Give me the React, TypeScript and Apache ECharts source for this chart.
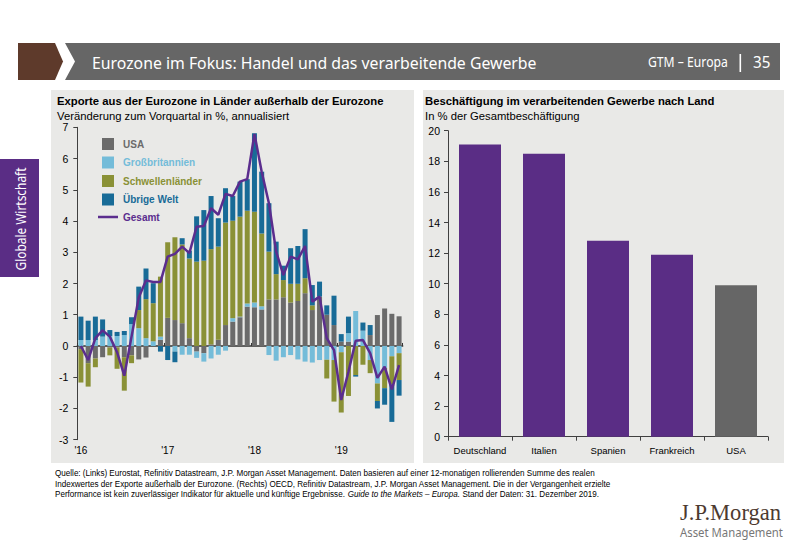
import React, { useEffect, useRef } from "react";
import * as echarts from "echarts";

const yearLabels = ["'16", "'17", "'18", "'19"];
const months: string[] = [];
for (let y = 0; y < 4; y++) {
  for (let m = 1; m <= 12; m++) months.push(yearLabels[y] + "-" + m);
}
months.length = 45;

const usa = [-0.1, -0.55, -0.4, -0.36, -0.05, -0.05, -0.36, -0.3, -0.43, -0.37, 0, 0.2, 0.9, 0.83, 0.73, 0.25, -0.18, -0.23, 0.05, 0.2, 0.67, 0.78, 0.92, 1.26, 1.24, 1.17, 1.49, 1.49, 1.56, 1.39, 1.44, 1.69, 1.15, 1.58, 1.0, 0.67, 0.14, 0.14, 0, 0, 0.35, 0.99, 1.2, 1.03, 0.95];
const uk = [0.19, 0.19, 0.19, 0.3, 0.32, 0.32, 0.35, 0.7, 0.57, 0.25, 0.15, 0.1, 0, -0.18, -0.28, -0.28, -0.2, -0.27, -0.4, -0.28, -0.15, 0.11, 0.02, 0.1, 0.15, 0.1, -0.29, -0.47, -0.36, -0.29, -0.43, -0.5, -0.53, -0.45, -0.44, -0.45, -0.2, 0.27, 1.12, 0.49, -0.45, -1.2, -0.7, -0.33, -0.23];
const em = [-1.07, -0.75, -0.28, 0, -0.25, -0.68, -1.07, -0.25, 0.58, 1.25, 1.22, 1.92, 2.42, 2.65, 2.52, 2.55, 2.7, 2.73, 3.05, 2.98, 3.28, 3.12, 3.2, 2.97, 2.91, 2.33, 1.53, 0.81, 0.55, 0.6, 0.55, 0.48, 0.15, 0, -0.6, -1.33, -1.93, -1.6, -0.93, -0.6, -0.42, -0.56, -0.65, -0.9, -0.86];
const rest = [0.75, 0.62, 0.75, 0.55, 0.19, 0.13, 0.13, 0.22, 0.75, 0.98, 0.64, -0.18, -0.45, -0.34, 0.2, 0.25, 1.45, 1.62, 1.7, 0.91, 1.1, 0.79, 1.12, 1.01, 2.51, 1.98, 1.55, 1.04, 0.46, 1.14, 1.21, 1.57, 0.65, 0.48, 0.3, 0.94, 0.24, 0.53, -0.05, 0.26, 0.32, -0.24, -0.53, -1.2, -0.5];
const total = [0, -0.45, 0.25, 0.5, 0.3, -0.2, -0.95, 0.3, 1.55, 2.1, 2.05, 2.05, 2.86, 2.95, 3.18, 2.97, 3.82, 3.84, 4.41, 4.2, 4.87, 4.8, 5.26, 5.34, 6.79, 5.58, 4.57, 3.02, 2.27, 2.86, 2.77, 3.2, 1.42, 1.58, 0.25, -0.13, -1.73, -0.82, 0.17, 0.19, -0.23, -1.02, -0.66, -1.39, -0.61];

const countries = ["Deutschland", "Italien", "Spanien", "Frankreich", "USA"];
const employment = [19.1, 18.5, 12.8, 11.9, 9.9];

const FONT = "Liberation Sans, Arial, sans-serif";
const C_USA = "#6b6b6b";
const C_UK = "#74bcd9";
const C_EM = "#8a9136";
const C_ROW = "#186b97";
const C_TOT = "#5b2d8e";
const C_AXIS = "#404040";
const PANEL = "#e9e9e7";

function txt(x: number, y: number, text: string, o: any = {}) {
  const { scaleX, rich, ...style } = o;
  const s: any = {
    text,
    fill: "#000",
    fontFamily: FONT,
    fontSize: 11,
    verticalAlign: "middle",
    align: "left",
    ...style,
  };
  if (rich) s.rich = rich;
  return {
    type: "text",
    x,
    y,
    scaleX: scaleX ?? 1,
    z: 10,
    style: s,
  };
}

export default function App() {
  const ref = useRef<HTMLDivElement>(null);
  useEffect(() => {
    if (!ref.current) return;
    const chart = echarts.init(ref.current, undefined, { renderer: "svg" });
    const sq = "path://M0,0H10V10H0Z";
    const ln = "path://M0,0H20V2.5H0Z";
    const yearIdx = (i: number) => i % 12 === 0;
    chart.setOption({
      animation: false,
      backgroundColor: "#ffffff",
      legend: {
        orient: "vertical",
        left: 93,
        top: 133,
        itemWidth: 20,
        itemHeight: 12,
        itemGap: 6.5,
        selectedMode: false,
        textStyle: { fontFamily: FONT, fontWeight: "bold", fontSize: 10 },
        data: [
          { name: "USA", icon: sq, textStyle: { color: C_USA } },
          { name: "Großbritannien", icon: sq, textStyle: { color: C_UK } },
          { name: "Schwellenländer", icon: sq, textStyle: { color: C_EM } },
          { name: "Übrige Welt", icon: sq, textStyle: { color: C_ROW } },
          { name: "Gesamt", icon: ln, textStyle: { color: C_TOT } },
        ],
      },
      grid: [
        { left: 77.3, top: 127.3, width: 325.4, height: 312.4 },
        { left: 448, top: 130.7, width: 320, height: 306 },
      ],
      xAxis: [
        {
          type: "category",
          gridIndex: 0,
          data: months,
          position: "bottom",
          axisLine: { show: false, onZero: false },
          axisTick: { show: false },
          axisLabel: {
            interval: (i: number) => yearIdx(i),
            formatter: (v: string) => v.split("-")[0],
            fontFamily: FONT,
            fontSize: 10,
            color: "#000",
            margin: 6,
          },
        },
        {
          type: "category",
          gridIndex: 0,
          data: months,
          axisLine: { show: true, onZero: true, lineStyle: { color: "#333", width: 1.5 } },
          axisTick: { show: true, interval: (i: number) => yearIdx(i), length: 3, lineStyle: { color: "#333" } },
          axisLabel: { show: false },
        },
        {
          type: "category",
          gridIndex: 1,
          data: countries,
          axisLine: { show: true, lineStyle: { color: C_AXIS } },
          axisTick: { show: true, interval: 0, length: 4, lineStyle: { color: C_AXIS } },
          axisLabel: { interval: 0, fontFamily: FONT, fontSize: 9.5, color: "#000", margin: 9 },
        },
      ],
      yAxis: [
        {
          type: "value",
          gridIndex: 0,
          min: -3,
          max: 7,
          interval: 1,
          axisLine: { show: true, lineStyle: { color: C_AXIS } },
          axisTick: { show: true, length: 4, lineStyle: { color: C_AXIS } },
          splitLine: { show: false },
          axisLabel: { fontFamily: FONT, fontSize: 10.5, color: "#000", margin: 9 },
        },
        {
          type: "value",
          gridIndex: 1,
          min: 0,
          max: 20,
          interval: 2,
          axisLine: { show: true, lineStyle: { color: C_AXIS } },
          axisTick: { show: true, length: 4, lineStyle: { color: C_AXIS } },
          splitLine: { show: false },
          axisLabel: { fontFamily: FONT, fontSize: 10.5, color: "#000", margin: 8 },
        },
      ],
      series: [
        { name: "USA", type: "bar", stack: "exp", xAxisIndex: 0, yAxisIndex: 0, barWidth: 5, data: usa, itemStyle: { color: C_USA } },
        { name: "Großbritannien", type: "bar", stack: "exp", xAxisIndex: 0, yAxisIndex: 0, barWidth: 5, data: uk, itemStyle: { color: C_UK } },
        { name: "Schwellenländer", type: "bar", stack: "exp", xAxisIndex: 0, yAxisIndex: 0, barWidth: 5, data: em, itemStyle: { color: C_EM } },
        { name: "Übrige Welt", type: "bar", stack: "exp", xAxisIndex: 0, yAxisIndex: 0, barWidth: 5, data: rest, itemStyle: { color: C_ROW } },
        {
          name: "Gesamt",
          type: "line",
          xAxisIndex: 0,
          yAxisIndex: 0,
          data: total,
          showSymbol: false,
          symbol: "none",
          z: 5,
          lineStyle: { color: C_TOT, width: 2.5 },
          itemStyle: { color: C_TOT },
        },
        {
          name: "Beschäftigung",
          type: "bar",
          xAxisIndex: 2,
          yAxisIndex: 1,
          barWidth: 42,
          data: employment.map((v, i) => ({
            value: v,
            itemStyle: { color: countries[i] === "USA" ? "#666666" : "#5a2d85" },
          })),
        },
      ],
      graphic: [
        { type: "rect", z: -10, shape: { x: 51, y: 90, width: 363, height: 373 }, style: { fill: PANEL } },
        { type: "rect", z: -10, shape: { x: 423, y: 90, width: 361, height: 373 }, style: { fill: PANEL } },
        { type: "polygon", z: 1, shape: { points: [[18, 43], [55, 43], [63, 61.5], [55, 80], [18, 80]] }, style: { fill: "#5e3a2b" } },
        { type: "polygon", z: 1, shape: { points: [[65, 43], [780, 43], [780, 80], [65, 80], [75, 61.5]] }, style: { fill: "#666666" } },
        txt(92, 62, "Eurozone im Fokus: Handel und das verarbeitende Gewerbe", { fill: "#fff", fontFamily: "Noto Sans", fontSize: 17, scaleX: 0.93 }),
        txt(648, 62, "GTM – Europa", { fill: "#fff", fontFamily: "Noto Sans", fontSize: 14.5, scaleX: 0.84 }),
        { type: "rect", z: 10, shape: { x: 739.5, y: 54, width: 1.6, height: 18 }, style: { fill: "#fff" } },
        txt(753, 62, "35", { fill: "#fff", fontFamily: "Noto Sans", fontSize: 16.5, scaleX: 0.92 }),
        { type: "rect", z: 1, shape: { x: 0, y: 159, width: 39, height: 118 }, style: { fill: "#5a2d85" } },
        {
          type: "text",
          x: 21,
          y: 219,
          rotation: Math.PI / 2,
          scaleX: 0.85,
          z: 10,
          style: { text: "Globale Wirtschaft", fill: "#fff", fontFamily: "Noto Sans", fontSize: 14, align: "center", verticalAlign: "middle" },
        },
        txt(57, 101, "Exporte aus der Eurozone in Länder außerhalb der Eurozone", { fontWeight: "bold", fontSize: 11.3 }),
        txt(57, 116, "Veränderung zum Vorquartal in %, annualisiert", { fontSize: 11.25 }),
        txt(425, 101, "Beschäftigung im verarbeitenden Gewerbe nach Land", { fontWeight: "bold", fontSize: 11.3 }),
        txt(425, 116, "In % der Gesamtbeschäftigung", { fontSize: 11.25 }),
        txt(55, 473, "Quelle: (Links) Eurostat, Refinitiv Datastream, J.P. Morgan Asset Management. Daten basieren auf einer 12-monatigen rollierenden Summe des realen", { fontSize: 9, scaleX: 0.9 }),
        txt(55, 483.5, "Indexwertes der Exporte außerhalb der Eurozone. (Rechts) OECD, Refinitiv Datastream, J.P. Morgan Asset Management. Die in der Vergangenheit erzielte", { fontSize: 9, scaleX: 0.9 }),
        txt(55, 494, "Performance ist kein zuverlässiger Indikator für aktuelle und künftige Ergebnisse. {i|Guide to the Markets – Europa.} Stand der Daten: 31. Dezember 2019.", {
          fontSize: 9,
          scaleX: 0.9,
          rich: { i: { fontStyle: "italic", fontSize: 9, fontFamily: FONT, fill: "#000" } },
        }),
        txt(680, 512, "J.P.Morgan", { fontFamily: "Liberation Serif, serif", fontSize: 23, fill: "#4d3a30", scaleX: 0.98 }),
        txt(680, 532, "Asset Management", { fontFamily: "Noto Sans", fontSize: 13.5, fill: "#777777", scaleX: 0.84 }),
      ],
    });
    return () => chart.dispose();
  }, []);
  return <div ref={ref} style={{ position: "fixed", left: 0, top: 0, width: 800, height: 554 }} />;
}
